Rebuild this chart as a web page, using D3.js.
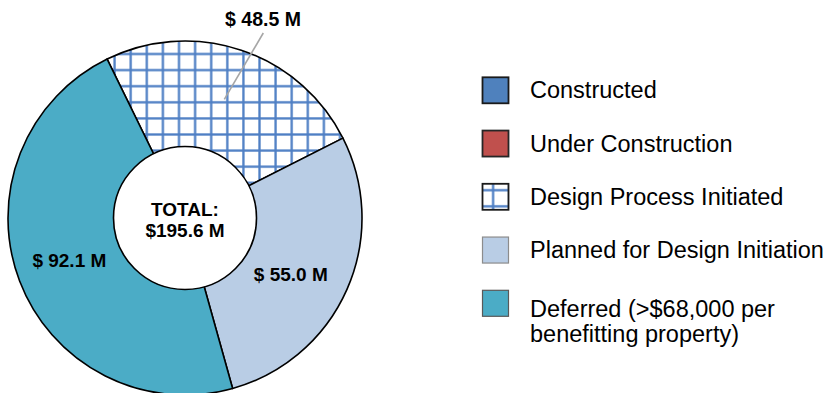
<!DOCTYPE html>
<html>
<head>
<meta charset="utf-8">
<script src="https://cdn.jsdelivr.net/npm/d3@7"></script>
<style>
  html, body { margin: 0; padding: 0; background: #fff; }
  svg { display: block; }
  text { font-family: Arial, "Liberation Sans", sans-serif; }
</style>
</head>
<body>
<svg id="chart" width="827" height="393"></svg>
<script>
// Project cost by status, $ millions
const categories = ["Constructed", "Under Construction", "Design Process Initiated",
                    "Planned for Design Initiation", "Deferred (>$68,000 per benefitting property)"];
const legendLines = [["Constructed"], ["Under Construction"], ["Design Process Initiated"],
                     ["Planned for Design Initiation"], ["Deferred (>$68,000 per", "benefitting property)"]];
const values = [0, 0, 48.5, 55.0, 92.1];
const valueLabels = ["", "", "$ 48.5 M", "$ 55.0 M", "$ 92.1 M"];
const totalLabel = ["TOTAL:", "$195.6 M"];

const fills = ["#4f81bd", "#c0504d", "url(#grid)", "#b9cde5", "#4bacc6"];
const legendStroke = ["#1a1a1a", "#262626", "#1a1a1a", "#8c8c8c", "#595959"];

const svg = d3.select("#chart");
const cx = 185, cy = 218, rOuter = 177, rInner = 71.5;

// grid hatch used for the design slice
const defs = svg.append("defs");
const step = 16.1;
const pat = defs.append("pattern")
  .attr("id", "grid")
  .attr("patternUnits", "userSpaceOnUse")
  .attr("x", 122.8 - step / 2).attr("y", 45.3 - step / 2)
  .attr("width", step).attr("height", step);
pat.append("rect").attr("width", step).attr("height", step).attr("fill", "#fff");
pat.append("line").attr("x1", step / 2).attr("x2", step / 2).attr("y1", 0).attr("y2", step)
  .attr("stroke", "#4f7fc4").attr("stroke-width", 2.3);
pat.append("line").attr("y1", step / 2).attr("y2", step / 2).attr("x1", 0).attr("x2", step)
  .attr("stroke", "#4f7fc4").attr("stroke-width", 2.3);

const start = -26.1 * Math.PI / 180;
const pie = d3.pie().sort(null).value(d => d).startAngle(start).endAngle(start + 2 * Math.PI);
const arcs = pie(values);
const arc = d3.arc().innerRadius(0).outerRadius(rOuter);

const g = svg.append("g").attr("transform", `translate(${cx},${cy})`);
g.selectAll("path.slice")
  .data(arcs.filter(a => a.data > 0))
  .join("path")
  .attr("class", "slice")
  .attr("d", arc)
  .attr("fill", d => fills[d.index])
  .attr("stroke", "#000")
  .attr("stroke-width", 1.6)
  .attr("stroke-linejoin", "round");

// centre hole
g.append("circle").attr("r", rInner).attr("fill", "#fff").attr("stroke", "#000").attr("stroke-width", 1.6);

g.append("text").attr("text-anchor", "middle").attr("y", -2)
  .attr("font-size", 19).attr("font-weight", "bold").attr("fill", "#000").text(totalLabel[0]);
g.append("text").attr("text-anchor", "middle").attr("y", 18.5)
  .attr("font-size", 19).attr("font-weight", "bold").attr("fill", "#000").text(totalLabel[1]);

// value labels: inside labels sit along the slice mid-angle
const inside = { 3: { r: 119.6, da: 4 }, 4: { r: 123.2, da: 0.7 } };
arcs.forEach(a => {
  if (!inside[a.index]) return;
  const mid = (a.startAngle + a.endAngle) / 2 + inside[a.index].da * Math.PI / 180;
  const r = inside[a.index].r;
  g.append("text")
    .attr("text-anchor", "middle")
    .attr("x", r * Math.sin(mid))
    .attr("y", -r * Math.cos(mid) + 7)
    .attr("font-size", 19).attr("font-weight", "bold").attr("fill", "#000")
    .text(valueLabels[a.index]);
});

// outside label with leader for the design slice
g.append("line")
  .attr("x1", 224.3 - cx).attr("y1", 99.3 - cy)
  .attr("x2", 263.3 - cx).attr("y2", 33 - cy)
  .attr("stroke", "#a6a6a6").attr("stroke-width", 1.6);
g.append("text").attr("text-anchor", "middle")
  .attr("x", 263 - cx).attr("y", 25.5 - cy)
  .attr("font-size", 19.5).attr("font-weight", "bold").attr("fill", "#000")
  .text(valueLabels[2]);

// legend
const legend = svg.append("g");
const rowY = d3.scalePoint().domain(d3.range(categories.length)).range([90.3, 303.3]);
categories.forEach((c, i) => {
  const y = rowY(i);
  legend.append("rect")
    .attr("x", 482.5).attr("y", y - 13).attr("width", 26).attr("height", 26)
    .attr("fill", fills[i]).attr("stroke", legendStroke[i]).attr("stroke-width", i < 3 ? 1.8 : 1.2);
  const t = legend.append("text")
    .attr("x", 530).attr("y", y + (i === 4 ? 13.4 : 8))
    .attr("font-size", 23.5).attr("fill", "#000");
  legendLines[i].forEach((line, j) => {
    t.append("tspan").attr("x", 530).attr("dy", j === 0 ? 0 : 25.5).text(line);
  });
});
</script>
</body>
</html>
